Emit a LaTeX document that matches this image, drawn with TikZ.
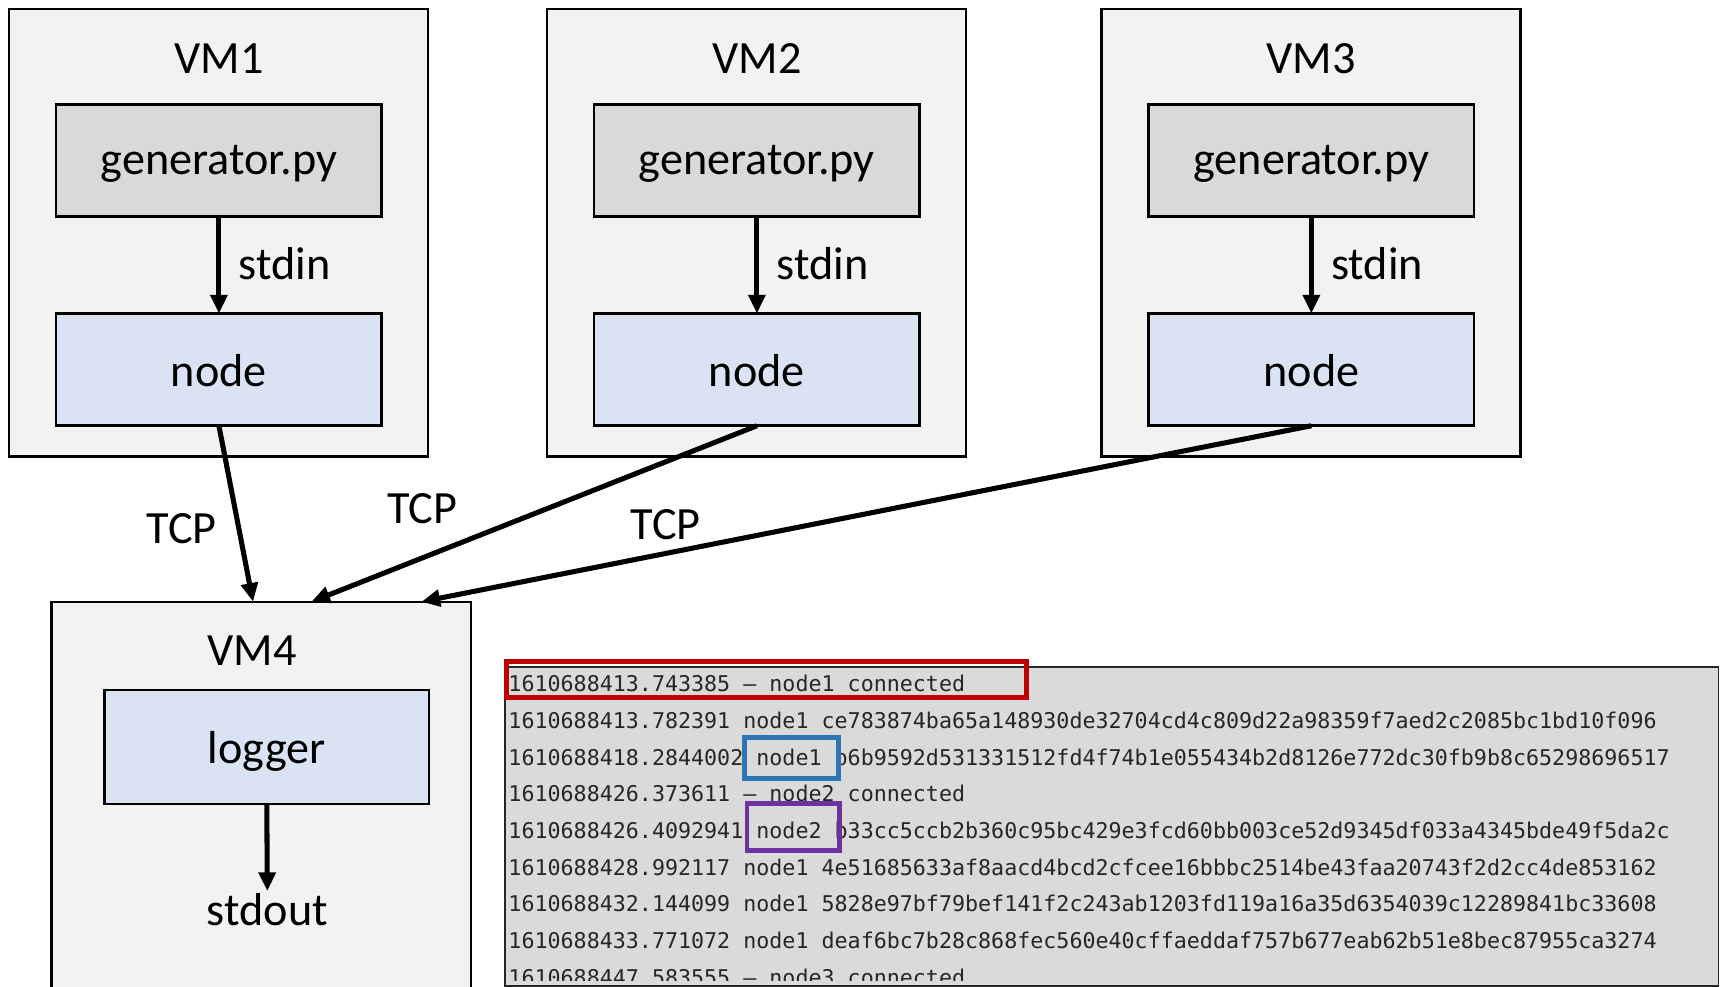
\documentclass[tikz,border=0pt]{standalone}
\usepackage{fontspec}
\setmainfont{Carlito}
\newfontfamily\logfont{DejaVu Sans Mono}
\usetikzlibrary{arrows.meta}
\definecolor{vmfill}{HTML}{F2F2F2}
\definecolor{genfill}{HTML}{D9D9D9}
\definecolor{nodefill}{HTML}{DAE3F3}
\definecolor{logfill}{HTML}{DADADA}
\definecolor{logtext}{HTML}{262626}
\definecolor{hlred}{HTML}{C00000}
\definecolor{hlblue}{HTML}{2E75B6}
\definecolor{hlpurple}{HTML}{7030A0}
\begin{document}
\begin{tikzpicture}[x=1pt,y=-1pt,
  box/.style={draw=black, line width=2.3pt, inner sep=0pt, outer sep=0pt, anchor=north west},
  vmbox/.style={box, fill=vmfill, minimum width=381pt, minimum height=407pt},
  genbox/.style={box, fill=genfill, minimum width=296pt, minimum height=102pt},
  procbox/.style={box, fill=nodefill, minimum width=296pt, minimum height=102pt},
  lbl/.style={font=\fontsize{42}{50}\selectfont, anchor=base, inner sep=0pt},
  lblw/.style={lbl, anchor=base west},
  flow/.style={line width=4.6pt, -{Triangle[length=17pt,width=15pt]}},
  logline/.style={font=\logfont\fontsize{19.7}{24}\selectfont, text=logtext, anchor=base west, inner sep=0pt},
  hl/.style={line width=4.5pt}
]
\clip (0,0) rectangle (1568,896.4);
\fill[white] (0,0) rectangle (1568,896.4);

% VM boxes
\node[vmbox] (vm1) at (8,8) {};
\node[vmbox] (vm2) at (497,8) {};
\node[vmbox] (vm3) at (1001,8) {};
\node[box, fill=vmfill, minimum width=381pt, minimum height=400pt] (vm4) at (47,547) {};

\node[lbl] (t1) at (199,66.5) {VM1};
\node[lbl] (t2) at (688,66.5) {VM2};
\node[lbl] (t3) at (1192,66.5) {VM3};
\node[lbl] (t4) at (229,604.5) {VM4};

% generator boxes
\node[genbox] (g1) at (51,95) {};
\node[genbox] (g2) at (540,95) {};
\node[genbox] (g3) at (1044,95) {};
\node[lbl] (gl1) at (g1.center) [yshift=-13pt] {generator.py};
\node[lbl] (gl2) at (g2.center) [yshift=-13pt] {generator.py};
\node[lbl] (gl3) at (g3.center) [yshift=-13pt] {generator.py};

% node boxes
\node[procbox] (n1) at (51,285) {};
\node[procbox] (n2) at (540,285) {};
\node[procbox] (n3) at (1044,285) {};
\node[lbl] (nl1) at (n1.center) [yshift=-15pt] {node};
\node[lbl] (nl2) at (n2.center) [yshift=-15pt] {node};
\node[lbl] (nl3) at (n3.center) [yshift=-15pt] {node};

% stdin
\draw[flow] (g1.south) -- (n1.north);
\draw[flow] (g2.south) -- (n2.north);
\draw[flow] (g3.south) -- (n3.north);
\node[lblw] (s1) at (217,254.5) {stdin};
\node[lblw] (s2) at (706,254.5) {stdin};
\node[lblw] (s3) at (1210,254.5) {stdin};

% logger
\node[procbox, minimum width=295pt, minimum height=104pt] (lg) at (95,627) {};
\node[lbl] (lgl) at (lg.center) [yshift=-15pt] {logger};
\coordinate (so) at (243,810);
\draw[flow] (lg.south) -- (so);
\node[lbl] (sol) at (243,841) {stdout};

% TCP connectors
\coordinate (e1) at (230,547);
\coordinate (e2) at (283,547);
\coordinate (e3) at (383,547);
\draw[flow] (n1.south) -- (e1);
\draw[flow] (n2.south) -- (e2);
\draw[flow] (n3.south) -- (e3);
\node[lbl] (tcp1) at (165,494) {TCP};
\node[lbl] (tcp2) at (384,476) {TCP};
\node[lbl] (tcp3) at (605,490) {TCP};

% log window
\node[box, draw=black!85, line width=1.5pt, fill=logfill, minimum width=1103pt, minimum height=290pt] (log) at (459,606) {};
\begin{scope}
\clip (459,606) rectangle (1562,891);
\node[logline] (r1) at (462,629) {1610688413.743385 – node1 connected};
\node[logline] (r2) at (462,662.3) {1610688413.782391 node1 ce783874ba65a148930de32704cd4c809d22a98359f7aed2c2085bc1bd10f096};
\node[logline] (r3) at (462,695.6) {1610688418.2844002 node1 b6b9592d531331512fd4f74b1e055434b2d8126e772dc30fb9b8c65298696517};
\node[logline] (r4) at (462,728.9) {1610688426.373611 – node2 connected};
\node[logline] (r5) at (462,762.2) {1610688426.4092941 node2 b33cc5ccb2b360c95bc429e3fcd60bb003ce52d9345df033a4345bde49f5da2c};
\node[logline] (r6) at (462,795.5) {1610688428.992117 node1 4e51685633af8aacd4bcd2cfcee16bbbc2514be43faa20743f2d2cc4de853162};
\node[logline] (r7) at (462,828.8) {1610688432.144099 node1 5828e97bf79bef141f2c243ab1203fd119a16a35d6354039c12289841bc33608};
\node[logline] (r8) at (462,862.1) {1610688433.771072 node1 deaf6bc7b28c868fec560e40cffaeddaf757b677eab62b51e8bec87955ca3274};
\node[logline] (r9) at (462,895.4) {1610688447.583555 – node3 connected};
\end{scope}

% highlights
\draw[hl, hlred] (460,601) rectangle (933,634);
\draw[hl, hlblue] (677,670) rectangle (762,708);
\draw[hl, hlpurple] (679,730) rectangle (763,773);
\end{tikzpicture}
\end{document}
